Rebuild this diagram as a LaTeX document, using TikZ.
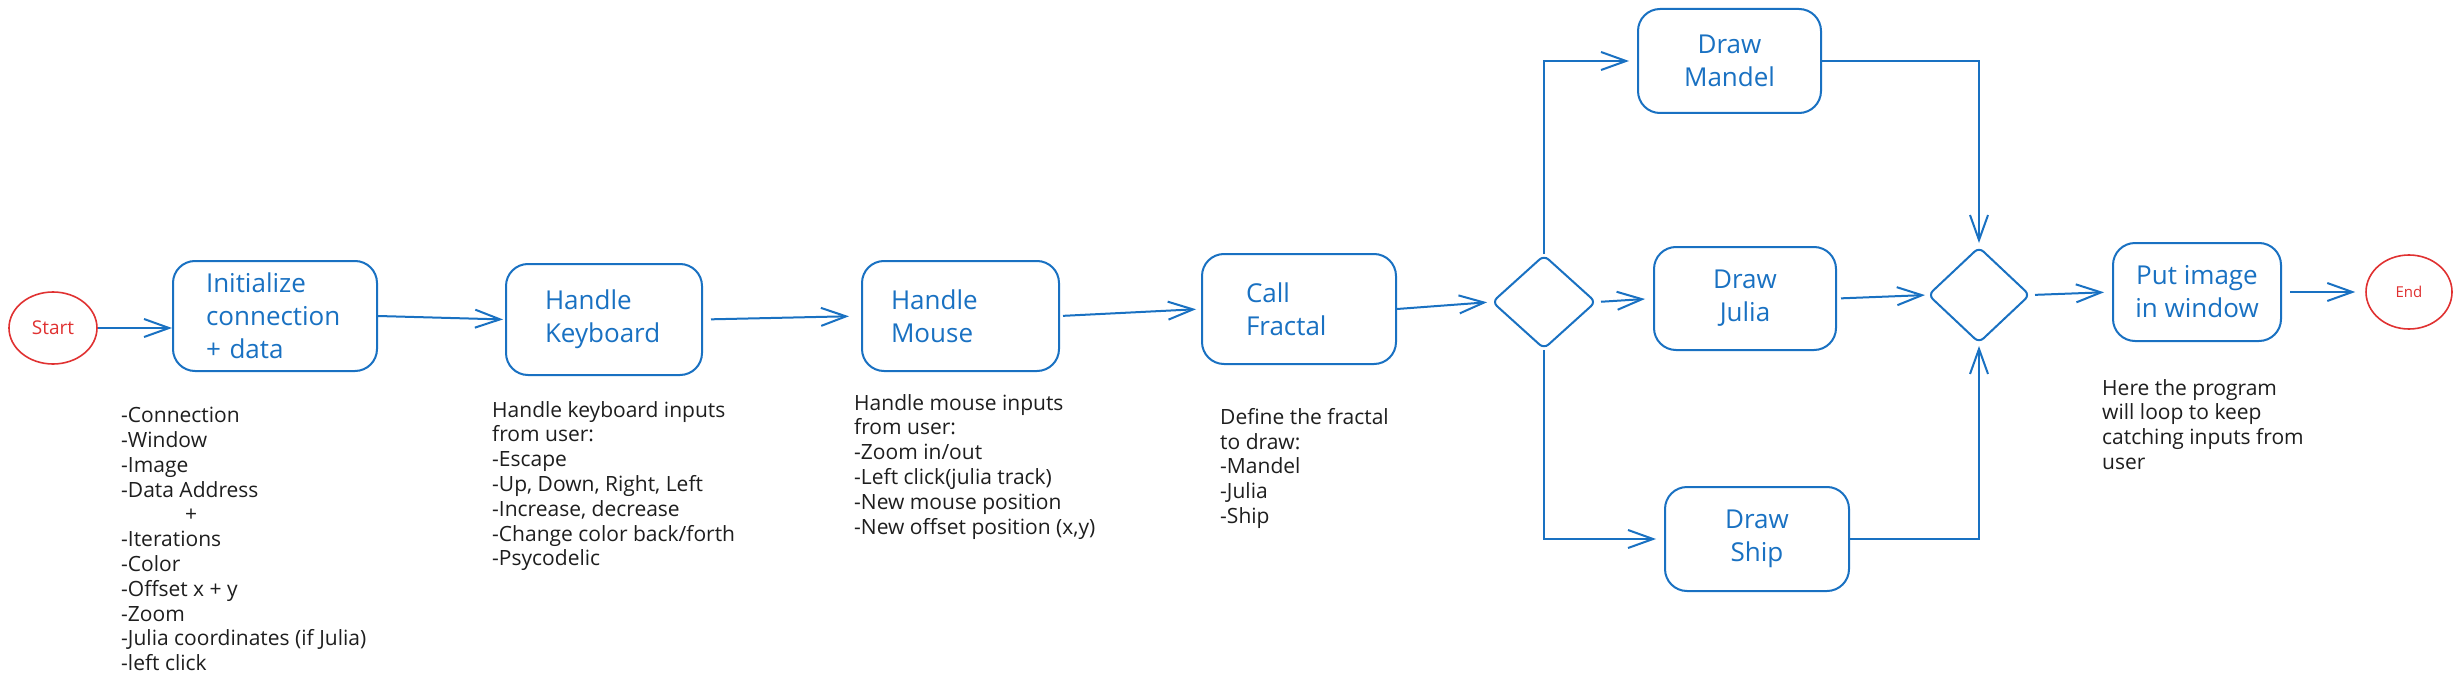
\documentclass[tikz,border=0pt]{standalone}
\usepackage{fontspec}
\setmainfont{Open Sans}
\usetikzlibrary{arrows.meta,shapes.geometric}
\definecolor{xblue}{HTML}{1971C2}
\definecolor{xred}{HTML}{E03131}
\definecolor{xink}{HTML}{1E1E1E}
\begin{document}
\begin{tikzpicture}[x=1pt,y=-1pt,
  box/.style={draw=xblue, line width=2pt, rounded corners=22pt, text=xblue,
    font=\fontsize{26}{33}\selectfont, inner sep=0pt},
  term/.style={ellipse, draw=xred, line width=1.6pt, text=xred, inner sep=0pt},
  gate/.style={diamond, draw=xblue, line width=2pt, rounded corners=6pt, inner sep=0pt},
  conn/.style={draw=xblue, line width=2pt, -{Straight Barb[length=25pt,width=18pt]}},
  note/.style={anchor=north west, align=left, inner sep=0pt, text=xink,
    font=\fontsize{21}{24.8}\selectfont}]
\fill[white] (0,0) rectangle (2463,690);
\useasboundingbox (0,0) rectangle (2463,690);

% terminals
\node[term, minimum width=88pt, minimum height=72pt, font=\fontsize{19}{22}\selectfont] (start) at (53,328) {Start};
\node[term, minimum width=86pt, minimum height=74pt, font=\fontsize{15}{18}\selectfont] (end) at (2409,292) {End};

% main boxes
\node[box, text width=138pt, inner xsep=33pt, minimum height=110pt, align=left] (init) at (275,316) {Initialize\\connection\\+ data};
\node[box, text width=118pt, inner xsep=39pt, minimum height=111pt, align=left] (kbd) at (604,319.5) {Handle\\Keyboard};
\node[box, text width=139pt, inner xsep=29pt, minimum height=110pt, align=left] (mouse) at (960.5,316) {Handle\\Mouse};
\node[box, text width=106pt, inner xsep=44pt, minimum height=110pt, align=left] (fractal) at (1299,309) {Call\\Fractal};

% branch
\node[gate, minimum width=104pt, minimum height=94pt] (d1) at (1544,302) {};
\node[box, minimum width=183pt, minimum height=104pt, align=center] (mandel) at (1729.5,61) {Draw\\Mandel};
\node[box, minimum width=182pt, minimum height=103pt, align=center] (julia) at (1745,298.5) {Draw\\Julia};
\node[box, minimum width=184pt, minimum height=104pt, align=center] (ship) at (1757,539) {Draw\\Ship};
\node[gate, minimum width=102pt, minimum height=96pt] (d2) at (1979,295) {};
\node[box, minimum width=168pt, minimum height=98pt, align=center] (put) at (2197,292) {Put image\\in window};

% connectors
\draw[conn] (start.east) -- (start.east -| init.west);
\draw[conn, shorten >=2pt] (init.east) -- (kbd.west);
\draw[conn, shorten <=8pt, shorten >=12pt] (kbd.east) -- (mouse.west);
\draw[conn, shorten <=3pt, shorten >=5pt] (mouse.east) -- (fractal.west);
\draw[conn, shorten >=4pt] (fractal.east) -- (d1.west);
\draw[conn, shorten >=8pt] (d1.north) |- (mandel.west);
\draw[conn, shorten <=4pt, shorten >=8pt] (d1.east) -- (julia.west);
\draw[conn, shorten >=8pt] (d1.south) |- (ship.west);
\draw[conn, shorten >=3pt] (mandel.east) -| (d2.north);
\draw[conn, shorten <=4pt, shorten >=2pt] (julia.east) -- (d2.west);
\draw[conn, shorten >=2pt] (ship.east) -| (d2.south);
\draw[conn, shorten <=4pt, shorten >=8pt] (d2.east) -- (put.west);
\draw[conn, shorten <=8pt, shorten >=10pt] (put.east) -- (end.west);

% notes
\node[note] (initnote) at (121,407) {-Connection\\-Window\\-Image\\-Data Address\\\hspace*{64pt}+\\-Iterations\\-Color\\-Offset x + y\\-Zoom\\-Julia coordinates (if Julia)\\-left click};
\node[note] (kbdnote) at (492,401) {Handle keyboard inputs\\from user:\\-Escape\\-Up, Down, Right, Left\\-Increase, decrease\\-Change color back/forth\\-Psycodelic};
\node[note] (mousenote) at (854,394) {Handle mouse inputs\\from user:\\-Zoom in/out\\-Left click(julia track)\\-New mouse position\\-New offset position (x,y)};
\node[note] (fracnote) at (1220,408) {Define the fractal\\to draw:\\-Mandel\\-Julia\\-Ship};
\node[note] (putnote) at (2102,379) {Here the program\\will loop to keep\\catching inputs from\\user};
\end{tikzpicture}
\end{document}
